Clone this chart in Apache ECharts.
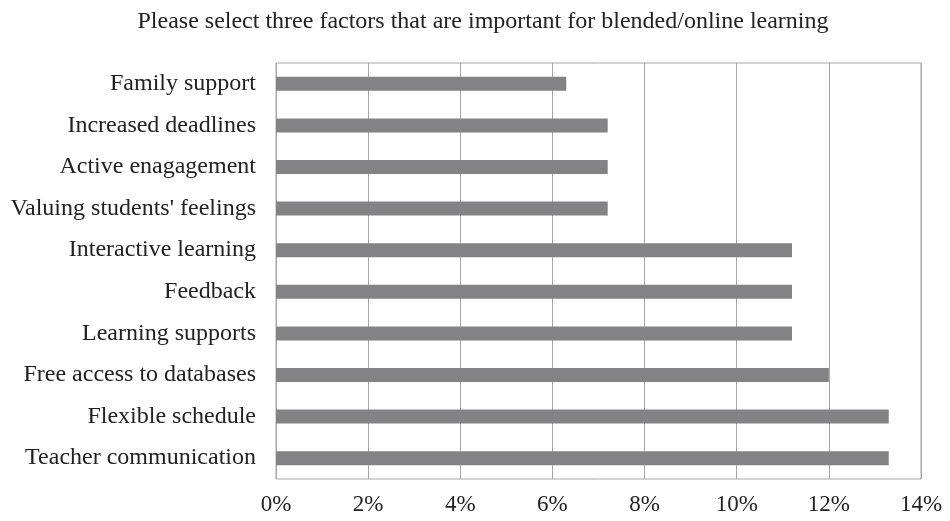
<!DOCTYPE html>
<html><head><meta charset="utf-8">
<script src="https://cdn.jsdelivr.net/npm/echarts@6/dist/echarts.min.js"></script>
<style>html,body{margin:0;padding:0;background:#fff}#c{width:950px;height:521px}</style>
</head><body><div id="c"></div>
<script>
const categories = ["Family support","Increased deadlines","Active enagagement","Valuing students' feelings","Interactive learning","Feedback","Learning supports","Free access to databases","Flexible schedule","Teacher communication"];
const values = [6.3, 7.2, 7.2, 7.2, 11.2, 11.2, 11.2, 12.0, 13.3, 13.3];
const titleText = "Please select three factors that are important for blended/online learning";
const font = "'Liberation Serif','Times New Roman',serif";
const chart = echarts.init(document.getElementById('c'));
chart.setOption({
  animation: false,
  title: {text: titleText, left: 478, top: 5, textAlign: 'center',
    textStyle: {fontFamily: font, fontSize: 24, fontWeight: 'normal', color: '#222'}},
  grid: {left: 276, right: 29, top: 63, bottom: 42, containLabel: false,
    show: true, borderColor: '#a6a6a6', borderWidth: 1},
  xAxis: {type: 'value', min: 0, max: 14, interval: 2,
    axisLine: {show: false}, axisTick: {show: false},
    splitLine: {lineStyle: {color: '#a6a6a6', width: 1}},
    axisLabel: {formatter: '{value}%', fontFamily: font, fontSize: 23, color: '#222', margin: 14}},
  yAxis: {type: 'category', data: categories, inverse: true,
    axisLine: {show: false}, axisTick: {show: false}, splitLine: {show: false},
    axisLabel: {fontFamily: font, fontSize: 24, color: '#222', margin: 20}},
  series: [{type: 'bar', data: values, barWidth: 14, itemStyle: {color: '#838386'}}]
});
</script></body></html>
